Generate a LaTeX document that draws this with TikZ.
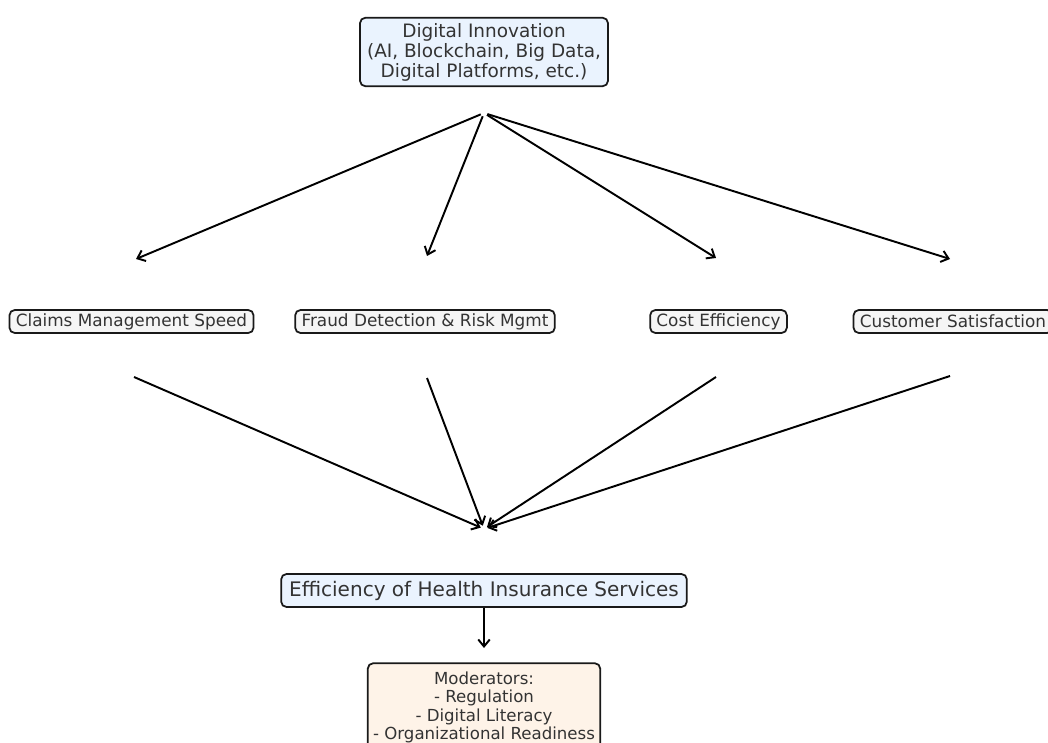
\documentclass[tikz,border=0pt]{standalone}
\usepackage{fontspec}
\setmainfont{DejaVu Sans}
\usetikzlibrary{arrows.meta}
\definecolor{innovblue}{HTML}{EAF3FE}
\definecolor{modorange}{HTML}{FEF3E8}
\definecolor{factorgrey}{HTML}{F5F5F5}
\definecolor{textgrey}{HTML}{333333}
\begin{document}
\begin{tikzpicture}[x=0.02cm,y=-0.02cm,
	box/.style={draw=black!90, line width=1pt, rounded corners=3pt, text=textgrey, align=center},
	mainbox/.style={box, fill=innovblue},
	factor/.style={box, fill=factorgrey, inner xsep=3.6pt, inner ysep=0pt, minimum height=0.46cm,
		font=\fontsize{9.6}{11}\selectfont},
	modbox/.style={box, fill=modorange, inner xsep=3pt, inner ysep=5pt, font=\fontsize{9.45}{10.4}\selectfont},
	link/.style={-{Straight Barb[length=1.4mm,width=2.3mm]}, line width=1.1pt}]
	\clip (0,0) rectangle (1048,743);
	\fill[white] (0,0) rectangle (1048,743);
	% boxes
	\node[mainbox, inner xsep=4pt, inner ysep=3pt, font=\fontsize{10.5}{11.4}\selectfont] (innov) at (484,52)
		{Digital Innovation\\(AI, Blockchain, Big Data,\\Digital Platforms, etc.)};
	\node[factor] (claims) at (131.5,321.5) {Claims Management Speed};
	\node[factor] (fraud) at (425,321.5) {Fraud Detection \& Risk Mgmt};
	\node[factor] (cost) at (718.5,321.5) {Cost Efficiency};
	\node[factor] (cust) at (953,321.5) {Customer Satisfaction};
	\node[mainbox, inner xsep=4.5pt, inner ysep=0pt, minimum height=0.66cm, font=\fontsize{11.4}{13}\selectfont] (eff) at (484,590.5)
		{Efficiency of Health Insurance Services};
	\node[modbox] (mod) at (484,707.5)
		{Moderators:\\- Regulation\\- Digital Literacy\\- Organizational Readiness};
	% arrow ends
	\coordinate (hub) at (484,113);
	\coordinate (sink) at (484,529);
	\coordinate (claimsin) at (136,259);
	\coordinate (fraudin) at (427,256);
	\coordinate (costin) at (716,258);
	\coordinate (custin) at (950,259);
	\coordinate (claimsout) at (134,377);
	\coordinate (fraudout) at (427,378);
	\coordinate (costout) at (716,377);
	\coordinate (custout) at (950,376);
	\coordinate (modin) at (484,648);
	\foreach \f in {claims,fraud,cost,cust}{
		\draw[link, shorten <=2pt] (hub) -- (\f in);
		\draw[link, shorten >=2pt] (\f out) -- (sink);
	}
	\draw[link] (eff.south) -- (modin);
\end{tikzpicture}
\end{document}
